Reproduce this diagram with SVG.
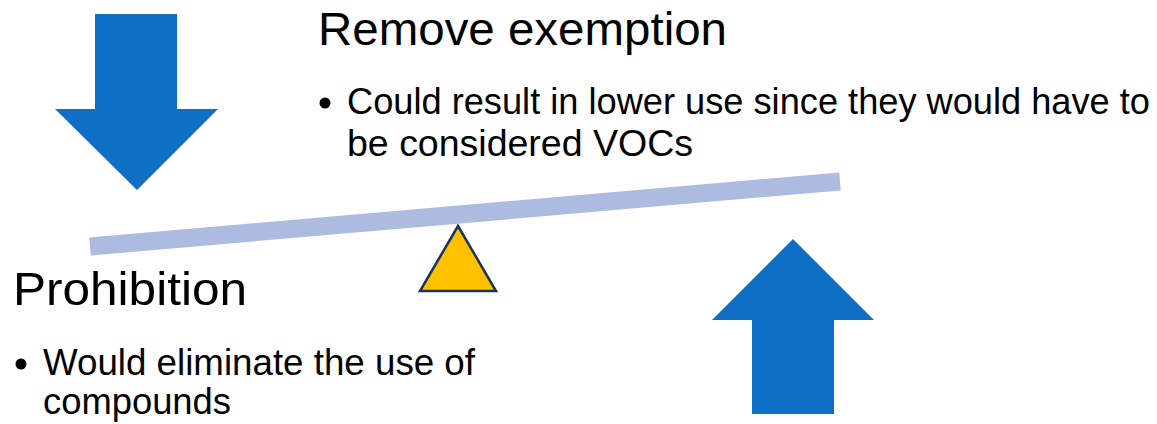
<svg xmlns="http://www.w3.org/2000/svg" width="1157" height="424" viewBox="0 0 1157 424">
  <style>
    .arrow { fill: #0F6FC6; }
    .beam { stroke: #ADBBE0; stroke-width: 18; fill: none; }
    .fulcrum { fill: #FFC000; stroke: #1A3358; stroke-width: 2.5; stroke-linejoin: miter; }
    .title { font-family: "Liberation Sans", Arial, sans-serif; font-size: 47px; fill: #000; }
    .body { font-family: "Liberation Sans", Arial, sans-serif; font-size: 36px; fill: #000; }
    .bullet { fill: #000; }
  </style>
  <rect width="1157" height="424" fill="#FFFFFF"/>
  <g id="down-arrow">
    <polygon class="arrow" points="95,14 177,14 177,109 218,109 137,190 55,109 95,109"/>
  </g>
  <g id="up-arrow">
    <polygon class="arrow" points="793,239 874,320 834,320 834,414 752,414 752,320 712,320"/>
  </g>
  <g id="beam">
    <line class="beam" x1="90" y1="246.5" x2="840" y2="181.5"/>
  </g>
  <g id="fulcrum">
    <polygon class="fulcrum" points="458,226 496,291 420,291"/>
  </g>
  <g id="remove-exemption">
    <text class="title" x="318" y="45" textLength="409" lengthAdjust="spacingAndGlyphs">Remove exemption</text>
    <circle class="bullet" cx="325" cy="103" r="5.5"/>
    <text class="body" x="347" y="114" textLength="803" lengthAdjust="spacingAndGlyphs">Could result in lower use since they would have to</text>
    <text class="body" x="347" y="156" textLength="346" lengthAdjust="spacingAndGlyphs">be considered VOCs</text>
  </g>
  <g id="prohibition">
    <text class="title" x="13" y="305" textLength="234" lengthAdjust="spacingAndGlyphs">Prohibition</text>
    <circle class="bullet" cx="21" cy="364" r="5.5"/>
    <text class="body" x="43" y="375" textLength="432" lengthAdjust="spacingAndGlyphs">Would eliminate the use of</text>
    <text class="body" x="43" y="414" textLength="188" lengthAdjust="spacingAndGlyphs">compounds</text>
  </g>
</svg>
